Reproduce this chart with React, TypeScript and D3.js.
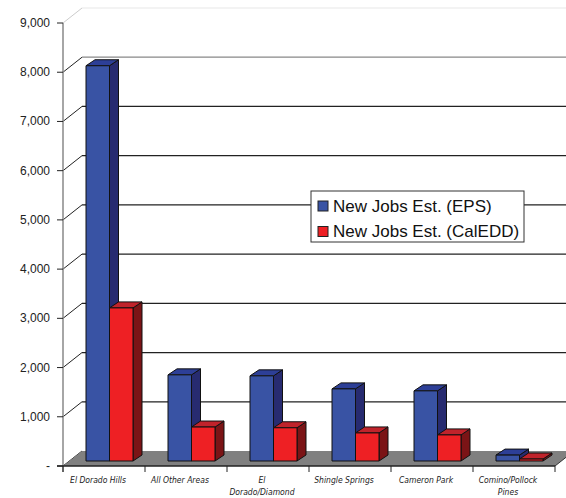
import React from "react";
import * as d3 from "d3";

const categories = ["El Dorado Hills", "All Other Areas", "El Dorado/Diamond", "Shingle Springs", "Cameron Park", "Comino/Pollock Pines"];
const categoryLines = [["El Dorado Hills"], ["All Other Areas"], ["El", "Dorado/Diamond"], ["Shingle Springs"], ["Cameron Park"], ["Comino/Pollock", "Pines"]];
const epsValues = [8030, 1750, 1730, 1465, 1425, 120];
const caleddValues = [3110, 690, 675, 570, 530, 40];
const seriesNames = ["New Jobs Est. (EPS)", "New Jobs Est. (CalEDD)"];
const yTicks = [0, 1000, 2000, 3000, 4000, 5000, 6000, 7000, 8000, 9000];

const W = 566, H = 498;
const X0 = 63, X1 = 555, Y0 = 466;
const DX = 19, DY = -15; // depth of back wall
const BDY0 = -5; // bar front plane offset
const BDX = 9, BDY = -6; // bar depth

const colors = [
  { front: "#3953a4", top: "#2d3f97", side: "#272b70" },
  { front: "#ee2024", top: "#c0232b", side: "#7b1416" },
];

export default function App() {
  const y = d3.scaleLinear().domain([0, 9000]).range([0, 443]);
  const x = d3.scaleBand<string>().domain(categories).range([X0, X1]).padding(0);
  const bw = x.bandwidth();
  const fmt = (v: number) => (v === 0 ? "-" : d3.format(",")(v));
  const series = [epsValues, caleddValues];
  const narrow = "'Liberation Sans Narrow', 'DejaVu Sans Condensed', 'Arial Narrow', sans-serif";
  const sans = "'Liberation Sans', Arial, sans-serif";

  return (
    <svg width={W} height={H} style={{ position: "absolute", left: 0, top: 0, background: "#fff" }}>
      {/* back wall gridlines */}
      {yTicks.map((t) => {
        const yy = Y0 + DY - y(t);
        if (t === 0) return null;
        const stroke = t === 9000 ? "#e8e8e8" : t === 8000 ? "#888" : "#222";
        return <line key={"g" + t} x1={X0 + DX} x2={W + 10} y1={yy} y2={yy} stroke={stroke} strokeWidth={1.2} />;
      })}
      {/* diagonal tick connectors */}
      {yTicks.map((t) => (
        <line key={"d" + t} x1={X0} y1={Y0 - y(t)} x2={X0 + DX} y2={Y0 + DY - y(t)} stroke={t === 9000 ? "#ccc" : "#222"} strokeWidth={1} />
      ))}
      {/* floor */}
      <polygon
        points={`${X0},${Y0} ${X1},${Y0} ${X1 + DX},${Y0 + DY} ${X0 + DX},${Y0 + DY}`}
        fill="#808080"
      />
      <line x1={X1} y1={Y0} x2={X1 + DX} y2={Y0 + DY} stroke="#333" strokeWidth={1} />
      {/* front axis */}
      <line x1={X0} x2={X0} y1={Y0 - y(9000)} y2={Y0 + 6} stroke="#888" strokeWidth={1.5} />
      {yTicks.map((t) => (
        <g key={"t" + t}>
          <line x1={X0 - 6} x2={X0} y1={Y0 - y(t)} y2={Y0 - y(t)} stroke="#222" strokeWidth={1} />
          <text x={50} y={Y0 - y(t) + 4} textAnchor="end" fontFamily={sans} fontSize={12} fill="#222">
            {fmt(t)}
          </text>
        </g>
      ))}
      <line x1={X0 - 6} x2={X1} y1={Y0} y2={Y0} stroke="#222" strokeWidth={1.5} />
      {/* category separators */}
      {categories.map((c) => (
        <line key={"s" + c} x1={x(c)!} x2={x(c)!} y1={Y0} y2={Y0 + 6} stroke="#222" strokeWidth={1} />
      ))}
      <line x1={X1} x2={X1} y1={Y0} y2={Y0 + 6} stroke="#222" strokeWidth={1} />
      {/* bars */}
      {categories.map((c, i) => (
        <g key={"b" + c}>
          {series.map((vals, s) => {
            const h = y(vals[i]);
            const left = x(c)! + 23 + s * 23.5;
            const right = left + 23.5;
            const bottom = Y0 + BDY0;
            const top = bottom - h;
            const col = colors[s];
            return (
              <g key={s} stroke="#111" strokeWidth={1} strokeLinejoin="round">
                <polygon
                  points={`${right},${bottom} ${right + BDX},${bottom + BDY} ${right + BDX},${top + BDY} ${right},${top}`}
                  fill={col.side}
                />
                <polygon
                  points={`${left},${top} ${right},${top} ${right + BDX},${top + BDY} ${left + BDX},${top + BDY}`}
                  fill={col.top}
                />
                <rect x={left} y={top} width={right - left} height={h} fill={col.front} />
              </g>
            );
          })}
        </g>
      ))}
      {/* category labels */}
      {categories.map((c, i) => {
        const cx = x(c)! + bw / 2 - 6;
        return (
          <text key={"l" + c} fontFamily={narrow} fontStyle="italic" fontSize={8.5} fill="#222" textAnchor="middle">
            {categoryLines[i].map((ln, k) => (
              <tspan key={k} x={cx} y={483 + k * 12}>
                {ln}
              </tspan>
            ))}
          </text>
        );
      })}
      {/* legend */}
      <rect x={311} y={191} width={213} height={51} fill="#fff" stroke="#333" strokeWidth={1} />
      {seriesNames.map((n, s) => (
        <g key={n}>
          <rect x={318} y={201 + s * 25.5} width={10} height={10} fill={colors[s].front} stroke="#222" strokeWidth={1} />
          <text x={333} y={212 + s * 25} fontFamily={sans} fontSize={17} fill="#111">
            {n}
          </text>
        </g>
      ))}
    </svg>
  );
}
